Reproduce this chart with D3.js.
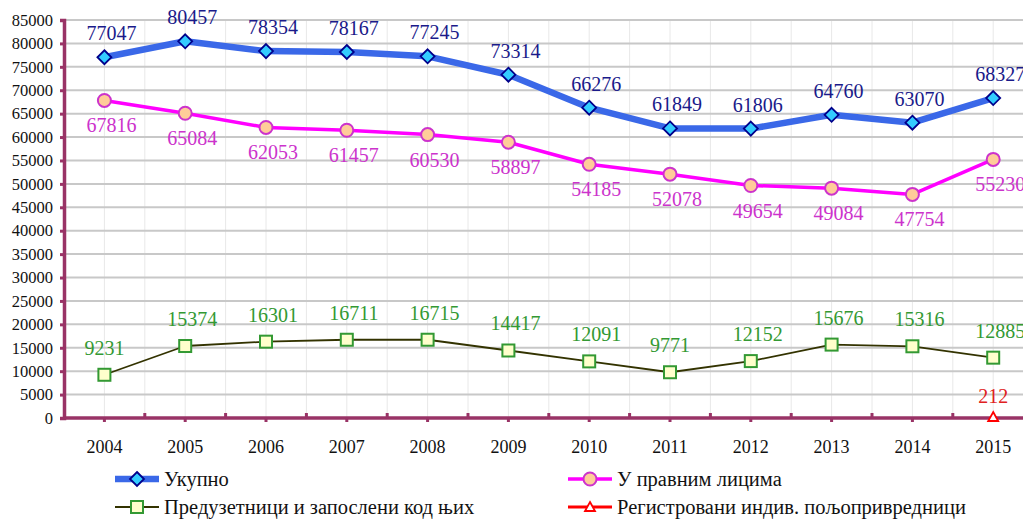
<!DOCTYPE html>
<html>
<head>
<meta charset="utf-8">
<script src="https://cdn.jsdelivr.net/npm/d3@7/dist/d3.min.js"></script>
<style>
  html, body { margin: 0; padding: 0; background: #fff; }
  svg { display: block; }
  text { font-family: "Liberation Serif", "Times New Roman", serif; }
</style>
</head>
<body>
<svg id="chart" width="1023" height="522"></svg>
<script>
// Data
const years = ["2004","2005","2006","2007","2008","2009","2010","2011","2012","2013","2014","2015"];
const ukupno = [77047, 80457, 78354, 78167, 77245, 73314, 66276, 61849, 61806, 64760, 63070, 68327];
const pravnaLica = [67816, 65084, 62053, 61457, 60530, 58897, 54185, 52078, 49654, 49084, 47754, 55230];
const preduzetnici = [9231, 15374, 16301, 16711, 16715, 14417, 12091, 9771, 12152, 15676, 15316, 12885];
const poljoprivrednici = [null, null, null, null, null, null, null, null, null, null, null, 212];
const yTicks = d3.range(0, 85001, 5000);

const svg = d3.select("#chart");
const plotLeft = 64, plotTop = 20, plotBottom = 418, band = 80.8;
const axisColor = "#993366";

const x = d3.scaleBand().domain(years).range([plotLeft, plotLeft + band * years.length]).paddingInner(0).paddingOuter(0);
const y = d3.scaleLinear().domain([0, 85000]).range([plotBottom, plotTop]);
const cx = d => x(d) + x.bandwidth() / 2;

// Grid: vertical light lines at centers and boundaries
const grid = svg.append("g").attr("class", "grid");
const vlines = [];
years.forEach(d => { vlines.push(x(d)); vlines.push(cx(d)); });
vlines.push(x.range()[1]);
grid.selectAll(".vline").data(vlines).join("line")
    .attr("x1", d => d).attr("x2", d => d)
    .attr("y1", plotTop).attr("y2", plotBottom)
    .attr("stroke", "#e8e8e8").attr("stroke-width", 1);
grid.selectAll(".hline").data(yTicks.filter(t => t > 0)).join("line")
    .attr("x1", plotLeft).attr("x2", x.range()[1])
    .attr("y1", d => y(d)).attr("y2", d => y(d))
    .attr("stroke", "#c8c8c8").attr("stroke-width", 2);

// Y axis
const yAxis = svg.append("g")
    .attr("transform", `translate(${plotLeft},0)`)
    .call(d3.axisLeft(y).tickValues(yTicks).tickSize(4).tickPadding(7).tickFormat(d3.format("d")));
yAxis.select(".domain").attr("stroke", axisColor).attr("stroke-width", 3.5);
yAxis.selectAll(".tick line").attr("stroke", axisColor).attr("stroke-width", 3);
yAxis.selectAll(".tick text").attr("fill", "#111").attr("font-size", "16.5px");

// X axis (ticks down at centers)
const xAxis = svg.append("g")
    .attr("transform", `translate(0,${plotBottom})`)
    .call(d3.axisBottom(x).tickSize(4).tickSizeOuter(0).tickPadding(18));
xAxis.select(".domain").attr("stroke", axisColor).attr("stroke-width", 3.5)
    .attr("d", `M${plotLeft},0H1023`);
xAxis.selectAll(".tick line").attr("stroke", axisColor).attr("stroke-width", 3);
xAxis.selectAll(".tick text").attr("fill", "#111").attr("font-size", "18px");
// boundary ticks pointing up
svg.append("g").selectAll("line").data(years.slice(1).map(d => x(d))).join("line")
    .attr("x1", d => d).attr("x2", d => d)
    .attr("y1", plotBottom).attr("y2", plotBottom - 5)
    .attr("stroke", axisColor).attr("stroke-width", 3);

const line = d3.line().defined(d => d.v != null).x(d => cx(d.year)).y(d => y(d.v));
const pts = arr => years.map((yr, i) => ({ year: yr, v: arr[i] }));

// Series config
const series = [
  { name: "Укупно", data: ukupno, stroke: "#3a68e8", width: 6.5, shape: "diamond", fill: "#33ccff", mstroke: "#00008b", label: "#1a1a8a", dy: -17 },
  { name: "У правним лицима", data: pravnaLica, stroke: "#ff00ff", width: 3.5, shape: "circle", fill: "#ffcc99", mstroke: "#cc33cc", label: "#cc33cc", dy: 32 },
  { name: "Предузетници и запослени код њих", data: preduzetnici, stroke: "#333300", width: 1.8, shape: "square", fill: "#ffffcc", mstroke: "#339933", label: "#339933", dy: -20 },
  { name: "Регистровани индив. пољопривредници", data: poljoprivrednici, stroke: "#ff0000", width: 3, shape: "triangle", fill: "#ffffff", mstroke: "#ff0000", label: "#e02020", dy: -14 }
];

function marker(g, s, px, py) {
  if (s.shape === "diamond") {
    g.append("path").attr("d", `M${px},${py-7}L${px+7},${py}L${px},${py+7}L${px-7},${py}Z`)
      .attr("fill", s.fill).attr("stroke", s.mstroke).attr("stroke-width", 1.8);
  } else if (s.shape === "circle") {
    g.append("circle").attr("cx", px).attr("cy", py).attr("r", 6.5)
      .attr("fill", s.fill).attr("stroke", s.mstroke).attr("stroke-width", 2);
  } else if (s.shape === "square") {
    g.append("rect").attr("x", px - 6).attr("y", py - 6).attr("width", 12).attr("height", 12)
      .attr("fill", s.fill).attr("stroke", s.mstroke).attr("stroke-width", 2);
  } else {
    g.append("path").attr("d", `M${px},${py-5}L${px+5},${py+4}L${px-5},${py+4}Z`)
      .attr("fill", s.fill).attr("stroke", s.mstroke).attr("stroke-width", 1.8);
  }
}

const plot = svg.append("g").attr("class", "series");
series.slice().reverse().forEach(s => {
  const g = plot.append("g");
  const p = pts(s.data);
  g.append("path").datum(p).attr("d", line)
    .attr("fill", "none").attr("stroke", s.stroke).attr("stroke-width", s.width)
    .attr("stroke-linejoin", "round");
  p.filter(d => d.v != null).forEach(d => marker(g, s, cx(d.year), y(d.v)));
  // five-digit labels sit slightly right of the marker in the original
  g.selectAll("text").data(p.filter(d => d.v != null)).join("text")
    .attr("x", d => cx(d.year) + (d.v >= 10000 ? 7 : 0)).attr("y", d => y(d.v) + s.dy)
    .attr("text-anchor", "middle").attr("fill", s.label)
    .attr("font-size", "20px").text(d => d.v);
});

// Legend
const legendPos = [[115, 479], [568, 479], [115, 507], [568, 507]];
const lg = svg.append("g").attr("class", "legend");
series.forEach((s, i) => {
  const [lx, ly] = legendPos[i];
  const g = lg.append("g");
  g.append("line").attr("x1", lx).attr("x2", lx + 44).attr("y1", ly).attr("y2", ly)
    .attr("stroke", s.stroke).attr("stroke-width", s.width);
  marker(g, s, lx + 22, ly);
  g.append("text").attr("x", lx + 49).attr("y", ly + 7).attr("fill", "#111")
    .attr("font-size", "20.5px").text(s.name);
});
</script>
</body>
</html>
